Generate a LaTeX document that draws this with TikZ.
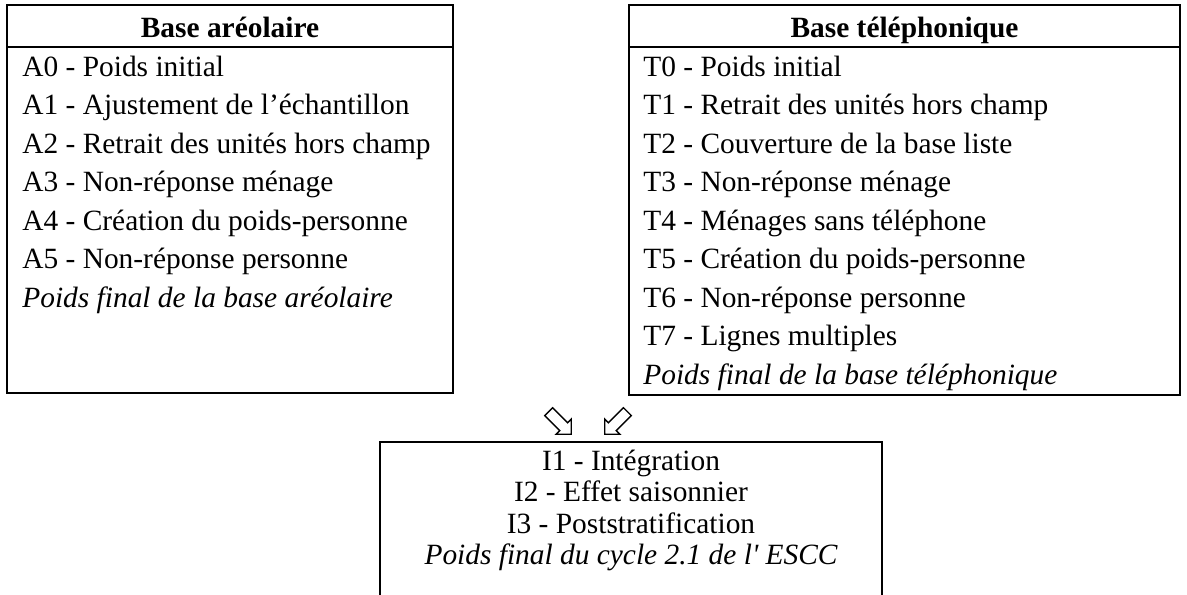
\documentclass[tikz,border=0pt]{standalone}
\usepackage{fontspec}
\setmainfont{Liberation Serif}[Ligatures=TeXOff]
\usepackage{tikz}
\usetikzlibrary{shapes.arrows}

\begin{document}
\begin{tikzpicture}[x=0.5pt,y=-0.5pt,
			every node/.style = {inner sep=0pt, font=\fontsize{14.7pt}{17pt}\selectfont},
			cadre/.style = {draw, line width=1pt},
			ligne/.style = {anchor=base west},
			titre/.style = {anchor=base, font=\fontsize{14.7pt}{17pt}\selectfont\bfseries},
			centre/.style = {anchor=base},
			fleche/.style = {single arrow, draw, line width=0.7pt, fill=white,
				minimum height=16pt, minimum width=10pt, inner sep=2.4pt,
				single arrow head extend=2.6pt}]
			\useasboundingbox (0,0) rectangle (1187,594);
			% base areolaire
			\draw[cadre] (7,5) rectangle (453,393);
			\draw[cadre] (7,47) -- (453,47);
			\node[titre] (ta) at (230,37) {Base aréolaire};
			\node[ligne] (a0) at (22,76) {A0 - Poids initial};
			\node[ligne] (a1) at (22,114.5) {A1 - Ajustement de l’échantillon};
			\node[ligne] (a2) at (22,153) {A2 - Retrait des unités hors champ};
			\node[ligne] (a3) at (22,191.5) {A3 - Non-réponse ménage};
			\node[ligne] (a4) at (22,230) {A4 - Création du poids-personne};
			\node[ligne] (a5) at (22,268.5) {A5 - Non-réponse personne};
			\node[ligne] (af) at (22,307) {\itshape Poids final de la base aréolaire};
			% base telephonique
			\draw[cadre] (629,5) rectangle (1180,395);
			\draw[cadre] (629,47) -- (1180,47);
			\node[titre] (tt) at (904.5,37) {Base téléphonique};
			\node[ligne] (t0) at (643,76) {T0 - Poids initial};
			\node[ligne] (t1) at (643,114.5) {T1 - Retrait des unités hors champ};
			\node[ligne] (t2) at (643,153) {T2 - Couverture de la base liste};
			\node[ligne] (t3) at (643,191.5) {T3 - Non-réponse ménage};
			\node[ligne] (t4) at (643,230) {T4 - Ménages sans téléphone};
			\node[ligne] (t5) at (643,268.5) {T5 - Création du poids-personne};
			\node[ligne] (t6) at (643,307) {T6 - Non-réponse personne};
			\node[ligne] (t7) at (643,345.5) {T7 - Lignes multiples};
			\node[ligne] (tf) at (643,384) {\itshape Poids final de la base téléphonique};
			% integration
			\node[fleche, rotate=-45] (fa) at (558,421) {};
			\node[fleche, rotate=-135] (ft) at (618,421) {};
			\draw[cadre] (380,600) -- (380,442) -- (882,442) -- (882,600);
			\node[centre] (i1) at (631,470) {I1 - Intégration};
			\node[centre] (i2) at (631,501.5) {I2 - Effet saisonnier};
			\node[centre] (i3) at (631,533) {I3 - Poststratification};
			\node[centre] (if) at (631,564.5) {\itshape Poids final du cycle 2.1 de l' ESCC};
\end{tikzpicture}
\end{document}
